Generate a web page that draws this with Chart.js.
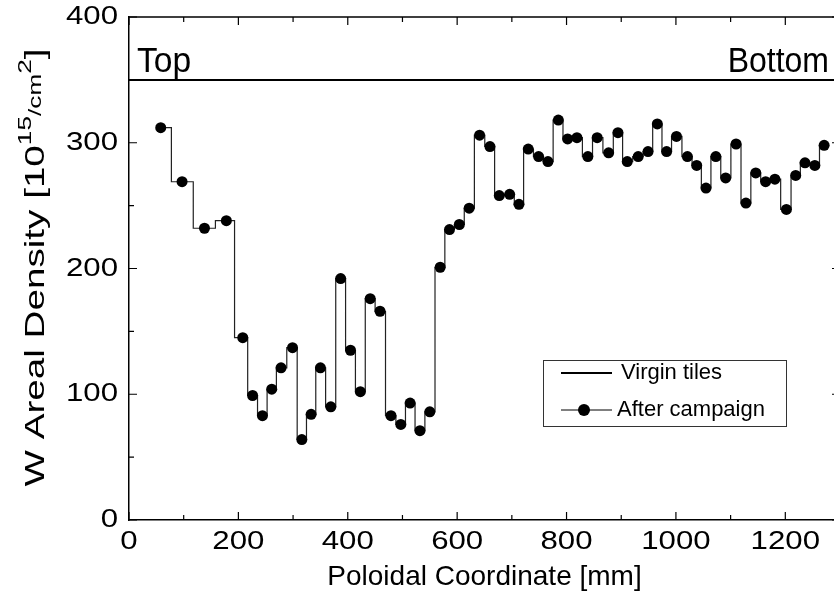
<!DOCTYPE html>
<html lang="en">
  <head>
    <meta charset="UTF-8" />
    <script src="https://cdn.jsdelivr.net/npm/chart.js@4.4.0/dist/chart.umd.min.js"></script>
    <title>W Areal Density</title>
    <style>
      html, body { margin: 0; padding: 0; overflow: hidden; background: #fff; }
      #wrap { width: 834px; height: 596px; overflow: hidden; }
    </style>
  </head>
  <body>
    <div id="wrap"><canvas id="myChart" width="850" height="596"></canvas></div>
    <script>
      // poloidal coordinate [mm] of each tile
      const positions = [
        58, 97, 138, 178, 208, 226, 244, 261, 278, 299,
        316, 333, 350, 369, 387, 405, 423, 441, 459, 479,
        497, 514, 532, 550, 569, 586, 604, 622, 641, 660,
        677, 696, 713, 730, 749, 766, 785, 802, 819, 839,
        856, 877, 894, 911, 931, 949, 966, 983, 1001, 1021,
        1038, 1055, 1073, 1091, 1110, 1128, 1146, 1164, 1181, 1202,
        1219, 1236, 1254, 1271
      ];
      // W areal density after campaign [1e15/cm2]
      const afterCampaign = [
        312, 269, 232, 238, 145, 99, 83, 104, 121, 137,
        64, 84, 121, 90, 192, 135, 102, 176, 166, 83,
        76, 93, 71, 86, 201, 231, 235, 248, 306, 297,
        258, 259, 251, 295, 289, 285, 318, 303, 304, 289,
        304, 292, 308, 285, 289, 293, 315, 293, 305, 289,
        282, 264, 289, 272, 299, 252, 276, 269, 271, 247,
        274, 284, 282, 298
      ];
      const virginX = [0, 1300];
      const virginY = [350, 350];
      const xTicks = [0, 200, 400, 600, 800, 1000, 1200];
      const yTicks = [0, 100, 200, 300, 400];
      const xMinorStep = 100;
      const yMinorStep = 50;

      const sans = "'Liberation Sans', Arial, sans-serif";

      // the original tick labels are set in a wide face: stretch each label around its anchor
      function stretchLabels(scale, k) {
        if (scale._stretched) return;
        scale._stretched = true;
        const draw = scale.drawLabels;
        scale.drawLabels = function (area) {
          const c = this.ctx;
          const fill = c.fillText;
          c.fillText = function (t, x, y) {
            this.save();
            this.scale(k, 1);
            fill.call(this, t, x / k, y);
            this.restore();
          };
          draw.call(this, area);
          c.fillText = fill;
        };
      }

      const frame = {
        id: "frame",
        afterDraw(chart) {
          const ctx = chart.ctx;
          const a = chart.chartArea;
          const xs = chart.scales.x;
          const ys = chart.scales.y;
          ctx.save();
          ctx.strokeStyle = "#000";
          ctx.lineWidth = 1.5;
          ctx.beginPath();
          ctx.moveTo(a.left, a.top);
          ctx.lineTo(a.right, a.top);
          ctx.lineTo(a.right, a.bottom);
          ctx.stroke();

          // inward ticks
          ctx.lineWidth = 1.2;
          ctx.beginPath();
          for (let v = 0; v <= xs.max; v += xMinorStep) {
            const px = xs.getPixelForValue(v);
            const len = v % 200 === 0 ? 8 : 5;
            ctx.moveTo(px, a.bottom);
            ctx.lineTo(px, a.bottom - len);
            ctx.moveTo(px, a.top);
            ctx.lineTo(px, a.top + len);
          }
          for (let v = 0; v <= ys.max; v += yMinorStep) {
            const py = ys.getPixelForValue(v);
            const len = v % 100 === 0 ? 8 : 5;
            ctx.moveTo(a.left, py);
            ctx.lineTo(a.left + len, py);
            ctx.moveTo(a.right, py);
            ctx.lineTo(a.right - len, py);
          }
          ctx.stroke();

          // Top / Bottom labels
          ctx.fillStyle = "#000";
          ctx.font = "32px " + sans;
          ctx.textBaseline = "alphabetic";
          ctx.save();
          ctx.translate(a.left + 8, a.top + 55);
          ctx.scale(1.05, 1.1);
          ctx.textAlign = "left";
          ctx.fillText("Top", 0, 0);
          ctx.restore();
          ctx.save();
          ctx.translate(a.right - 11, a.top + 55);
          ctx.scale(1, 1.1);
          ctx.textAlign = "right";
          ctx.fillText("Bottom", 0, 0);
          ctx.restore();

          // y title with superscripts
          const big = "28px " + sans;
          const small = "19px " + sans;
          const parts = [
            ["W Areal Density [10", big, 0],
            ["15", small, -10],
            ["/cm", small, 0],
            ["2", small, -10],
            ["]", big, 0]
          ];
          let total = 0;
          parts.forEach(p => { ctx.font = p[1]; total += ctx.measureText(p[0]).width; });
          ctx.translate(36, (a.top + a.bottom) / 2 - 1);
          ctx.rotate(-Math.PI / 2);
          ctx.scale(1.38, 1);
          ctx.textAlign = "left";
          ctx.textBaseline = "middle";
          let cx = -total / 2;
          parts.forEach(p => {
            ctx.font = p[1];
            ctx.fillText(p[0], cx, p[2]);
            cx += ctx.measureText(p[0]).width;
          });
          ctx.restore();

          // legend
          ctx.save();
          const bx = 543, by = 360, bw = 243, bh = 66;
          ctx.strokeStyle = "#333";
          ctx.lineWidth = 1;
          ctx.strokeRect(bx + 0.5, by + 0.5, bw, bh);
          ctx.strokeStyle = "#000";
          ctx.lineWidth = 2;
          ctx.beginPath();
          ctx.moveTo(bx + 18, by + 13);
          ctx.lineTo(bx + 69, by + 13);
          ctx.stroke();
          ctx.lineWidth = 1;
          ctx.beginPath();
          ctx.moveTo(bx + 18, by + 50);
          ctx.lineTo(bx + 69, by + 50);
          ctx.stroke();
          ctx.beginPath();
          ctx.arc(bx + 41, by + 50, 6, 0, Math.PI * 2);
          ctx.fillStyle = "#000";
          ctx.fill();
          ctx.font = "22px " + sans;
          ctx.textBaseline = "middle";
          ctx.textAlign = "left";
          const labels = chart.data.datasets.map(d => d.label);
          ctx.fillText(labels[0], bx + 78, by + 13);
          ctx.fillText(labels[1], bx + 74, by + 50);
          ctx.restore();
        }
      };

      const ctx = document.getElementById("myChart").getContext("2d");
      const myChart = new Chart(ctx, {
        type: "line",
        data: {
          datasets: [
            {
              label: "Virgin tiles",
              data: virginX.map((x, i) => ({ x: x, y: virginY[i] })),
              borderColor: "#000",
              borderWidth: 2,
              pointRadius: 0
            },
            {
              label: "After campaign",
              data: positions.map((x, i) => ({ x: x, y: afterCampaign[i] })),
              stepped: "middle",
              borderColor: "#222",
              borderWidth: 1.2,
              pointRadius: 5.5,
              pointBackgroundColor: "#000",
              pointBorderColor: "#000",
              pointBorderWidth: 0
            }
          ]
        },
        options: {
          responsive: false,
          animation: false,
          devicePixelRatio: 1,
          layout: { padding: { left: 0, top: 17, right: 10, bottom: 0 } },
          plugins: { legend: { display: false }, tooltip: { enabled: false } },
          scales: {
            x: {
              type: "linear",
              min: 0,
              max: 1300,
              afterBuildTicks: s => { s.ticks = xTicks.map(v => ({ value: v })); },
              afterFit: s => {
                s.height = 76;
                s.paddingLeft = 0;
                s.paddingRight = 0;
                stretchLabels(s, 1.2);
              },
              grid: { display: false, drawTicks: false },
              border: { display: true, color: "#000", width: 1.5 },
              ticks: {
                color: "#000",
                font: { family: sans, size: 26 },
                padding: 6,
                maxRotation: 0,
                autoSkip: false,
                callback: v => String(v)
              },
              title: {
                display: true,
                text: "Poloidal Coordinate [mm]",
                color: "#000",
                font: { family: sans, size: 28 },
                padding: { top: 0, bottom: 2 }
              }
            },
            y: {
              min: 0,
              max: 400,
              afterBuildTicks: s => { s.ticks = yTicks.map(v => ({ value: v })); },
              afterFit: s => {
                s.width = 129;
                s.paddingTop = 0;
                s.paddingBottom = 0;
                stretchLabels(s, 1.2);
              },
              grid: { display: false, drawTicks: false },
              border: { display: true, color: "#000", width: 1.5 },
              ticks: {
                color: "#000",
                font: { family: sans, size: 26 },
                padding: 11,
                callback: v => String(v)
              }
            }
          }
        },
        plugins: [frame]
      });
    </script>
  </body>
</html>
